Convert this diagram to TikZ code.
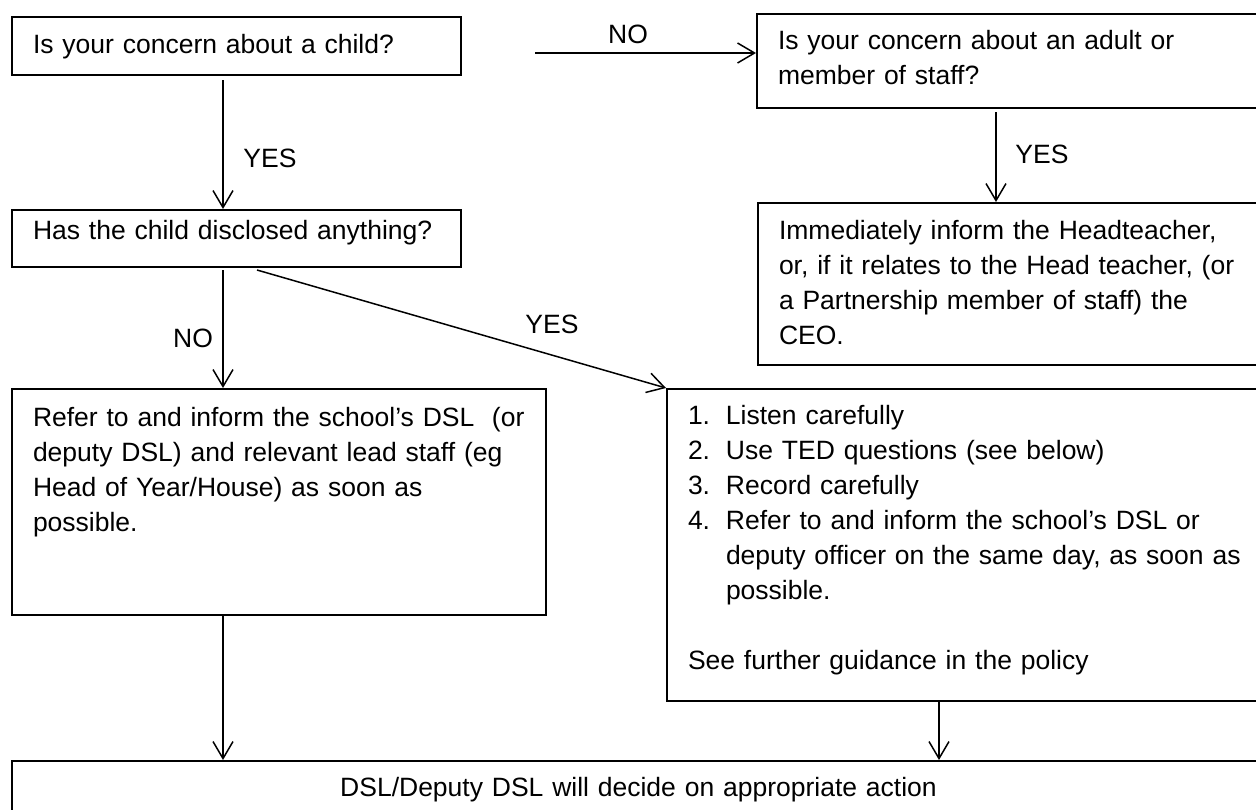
\documentclass[tikz,border=0pt]{standalone}
\usepackage{fontspec}
\setmainfont{Liberation Sans}
\usetikzlibrary{calc}
\usepgflibrary{arrows.meta}
\tikzset{
  stepbox/.style={draw, line width=2pt, rectangle, anchor=north west, inner xsep=21pt, inner ysep=0pt, align=left},
  flow/.style={line width=1.5pt, -{Straight Barb[length=17pt,width=20pt]}},
  ans/.style={anchor=base, inner sep=0pt}
}

\begin{document}
\begin{tikzpicture}[x=1pt,y=-1pt,font=\fontsize{26.5pt}{35pt}\selectfont]
        %画布
        \clip (0,0) rectangle (1256,809);
        %方框
        \node[stepbox, text width=407pt, text height=36pt, text depth=22pt] (child) at (11,16) {Is your concern about a child?};
        \node[stepbox, text width=407pt, text height=29pt, text depth=28pt] (disclosed) at (11,209) {Has the child disclosed anything?};
        \node[stepbox, text width=492pt, text height=37pt, text depth=189pt] (refer) at (11,388) {Refer to and inform the school’s DSL~ (or\\deputy DSL) and relevant lead staff (eg\\Head of Year/House) as soon as\\possible.};
        \node[stepbox, text width=600pt, text height=35pt, text depth=277pt] (listen) at (666,388) {\makebox[38pt][l]{1.}Listen carefully\\
          \makebox[38pt][l]{2.}Use TED questions (see below)\\
          \makebox[38pt][l]{3.}Record carefully\\
          \makebox[38pt][l]{4.}Refer to and inform the school’s DSL or\\
          \hspace*{38pt}deputy officer on the same day, as soon as\\
          \hspace*{38pt}possible.\\[35pt]
          See further guidance in the policy};
        \node[stepbox, text width=480pt, text height=35pt, text depth=59pt] (adult) at (756,13) {Is your concern about an adult or\\member of staff?};
        \node[stepbox, text width=480pt, text height=36pt, text depth=126pt] (immediate) at (757,202) {Immediately inform the Headteacher,\\or, if it relates to the Head teacher, (or\\a Partnership member of staff) the\\CEO.};
        \node[stepbox, align=center, text width=1211pt, text height=35pt, text depth=45pt] (decide) at (11,760) {DSL/Deputy DSL will decide on appropriate action};
        %箭头
        \draw[flow] ($(child.south west)+(212,4)$) coordinate (c1) -- (c1 |- disclosed.north);
        \draw[flow] ($(child.east)+(73,7)$) coordinate (c2) -- (c2 -| adult.west);
        \draw[flow] ($(adult.south west)+(240,3)$) coordinate (c3) -- (c3 |- immediate.north);
        \draw[flow] ($(disclosed.south west)+(212,2)$) coordinate (c4) -- (c4 |- refer.north);
        \draw[flow] ($(disclosed.south west)+(246,2)$) -- (listen.north west);
        \draw[flow] ($(refer.south west)+(212,0)$) coordinate (c5) -- (c5 |- decide.north);
        \draw[flow] ($(listen.south west)+(273,0)$) coordinate (c6) -- (c6 |- decide.north);
        %标注
        \node[ans] (no1) at (628,43) {NO};
        \node[ans] (yes1) at (270,167) {YES};
        \node[ans] (yes2) at (1042,163) {YES};
        \node[ans] (no2) at (193,347) {NO};
        \node[ans] (yes3) at (552,333) {YES};
    \end{tikzpicture}
\end{document}
